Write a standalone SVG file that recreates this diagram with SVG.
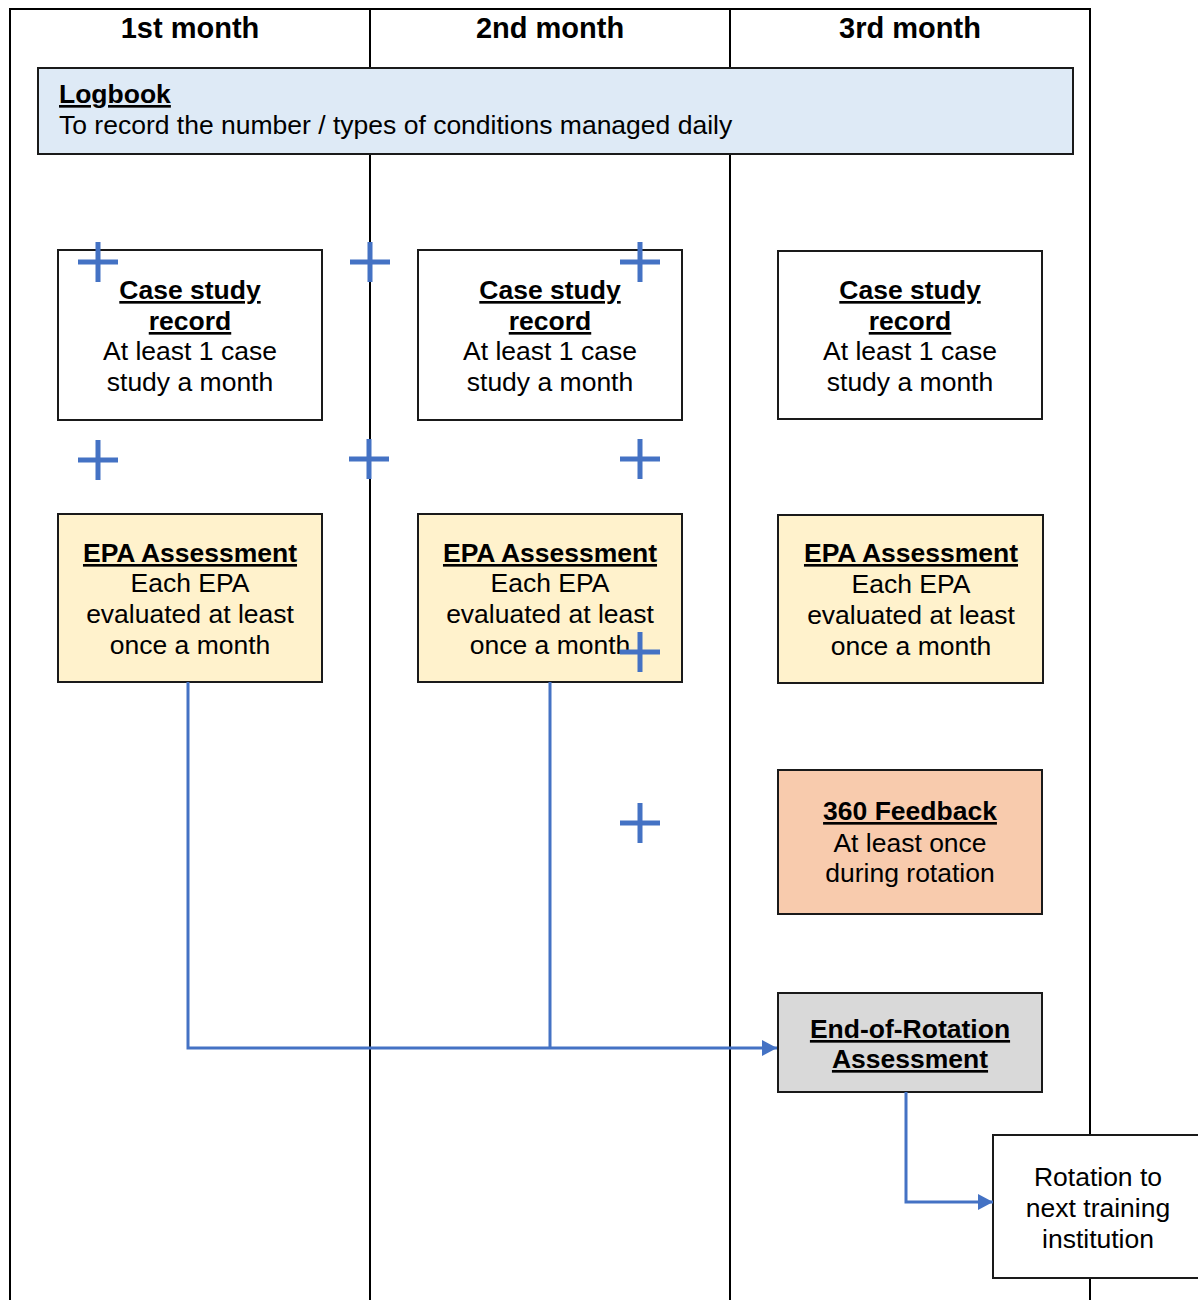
<svg xmlns="http://www.w3.org/2000/svg" width="1198" height="1300" viewBox="0 0 1198 1300">
<style>
text{font-family:"Liberation Sans",Arial,sans-serif;font-size:26.5px;fill:#000}
.h{font-weight:bold;font-size:29px}
.b{font-weight:bold;text-decoration:underline}
.c{text-anchor:middle}
.grid{stroke:#000;stroke-width:2;fill:none}
.box{stroke:#1a1a1a;stroke-width:2}
.plus{stroke:#4472C4;stroke-width:5;fill:none}
.conn{stroke:#4472C4;stroke-width:3;fill:none}
</style>
<defs>
<marker id="arr" markerWidth="16" markerHeight="16" refX="15" refY="8" orient="auto" markerUnits="userSpaceOnUse">
<path d="M0,0 L15,8 L0,16 Z" fill="#4472C4"/>
</marker>
</defs>
<rect x="0" y="0" width="1198" height="1300" fill="#fff"/>
<g id="table" class="grid">
<path d="M10,1300 V9 H1090 V1300"/>
<path d="M370,9 V1300 M730,9 V1300"/>
</g>
<g id="headers">
<text class="h c" x="190" y="38">1st month</text>
<text class="h c" x="550" y="38">2nd month</text>
<text class="h c" x="910" y="38">3rd month</text>
</g>
<g id="logbook">
<rect class="box" x="38" y="68" width="1035" height="86" fill="#DEEAF6"/>
<text class="b" x="59" y="103">Logbook</text>
<text x="59" y="134">To record the number / types of conditions managed daily</text>
</g>
<g id="case1">
<rect class="box" x="58" y="250" width="264" height="170" fill="#fff"/>
<text class="b c" x="190" y="299">Case study</text>
<text class="b c" x="190" y="330">record</text>
<text class="c" x="190" y="360">At least 1 case</text>
<text class="c" x="190" y="391">study a month</text>
</g>
<g id="case2">
<rect class="box" x="418" y="250" width="264" height="170" fill="#fff"/>
<text class="b c" x="550" y="299">Case study</text>
<text class="b c" x="550" y="330">record</text>
<text class="c" x="550" y="360">At least 1 case</text>
<text class="c" x="550" y="391">study a month</text>
</g>
<g id="case3">
<rect class="box" x="778" y="251" width="264" height="168" fill="#fff"/>
<text class="b c" x="910" y="299">Case study</text>
<text class="b c" x="910" y="330">record</text>
<text class="c" x="910" y="360">At least 1 case</text>
<text class="c" x="910" y="391">study a month</text>
</g>
<g id="epa1">
<rect class="box" x="58" y="514" width="264" height="168" fill="#FFF2CC"/>
<text class="b c" x="190" y="562">EPA Assessment</text>
<text class="c" x="190" y="592">Each EPA</text>
<text class="c" x="190" y="623">evaluated at least</text>
<text class="c" x="190" y="654">once a month</text>
</g>
<g id="epa2">
<rect class="box" x="418" y="514" width="264" height="168" fill="#FFF2CC"/>
<text class="b c" x="550" y="562">EPA Assessment</text>
<text class="c" x="550" y="592">Each EPA</text>
<text class="c" x="550" y="623">evaluated at least</text>
<text class="c" x="550" y="654">once a month</text>
</g>
<g id="epa3">
<rect class="box" x="778" y="515" width="265" height="168" fill="#FFF2CC"/>
<text class="b c" x="911" y="562">EPA Assessment</text>
<text class="c" x="911" y="593">Each EPA</text>
<text class="c" x="911" y="624">evaluated at least</text>
<text class="c" x="911" y="655">once a month</text>
</g>
<g id="feedback360">
<rect class="box" x="778" y="770" width="264" height="144" fill="#F8CBAD"/>
<text class="b c" x="910" y="820">360 Feedback</text>
<text class="c" x="910" y="852">At least once</text>
<text class="c" x="910" y="882">during rotation</text>
</g>
<g id="endOfRotation">
<rect class="box" x="778" y="993" width="264" height="99" fill="#D9D9D9"/>
<text class="b c" x="910" y="1038">End-of-Rotation</text>
<text class="b c" x="910" y="1068">Assessment</text>
</g>
<g id="rotation">
<rect class="box" x="993" y="1135" width="215" height="143" fill="#fff"/>
<text class="c" x="1098" y="1186">Rotation to</text>
<text class="c" x="1098" y="1217">next training</text>
<text class="c" x="1098" y="1248">institution</text>
</g>
<g id="plus-signs" class="plus">
<path d="M78,262 H118 M98,242 V282"/>
<path d="M350,262 H390 M370,242 V282"/>
<path d="M620,262 H660 M640,242 V282"/>
<path d="M78,460 H118 M98,440 V480"/>
<path d="M349,459 H389 M369,439 V479"/>
<path d="M620,459 H660 M640,439 V479"/>
<path d="M620,652 H660 M640,632 V672"/>
<path d="M620,823 H660 M640,803 V843"/>
</g>
<g id="connectors" class="conn">
<path d="M188,682 V1048 H777" marker-end="url(#arr)"/>
<path d="M550,682 V1048"/>
<path d="M906,1092 V1202 H993" marker-end="url(#arr)"/>
</g>
</svg>
